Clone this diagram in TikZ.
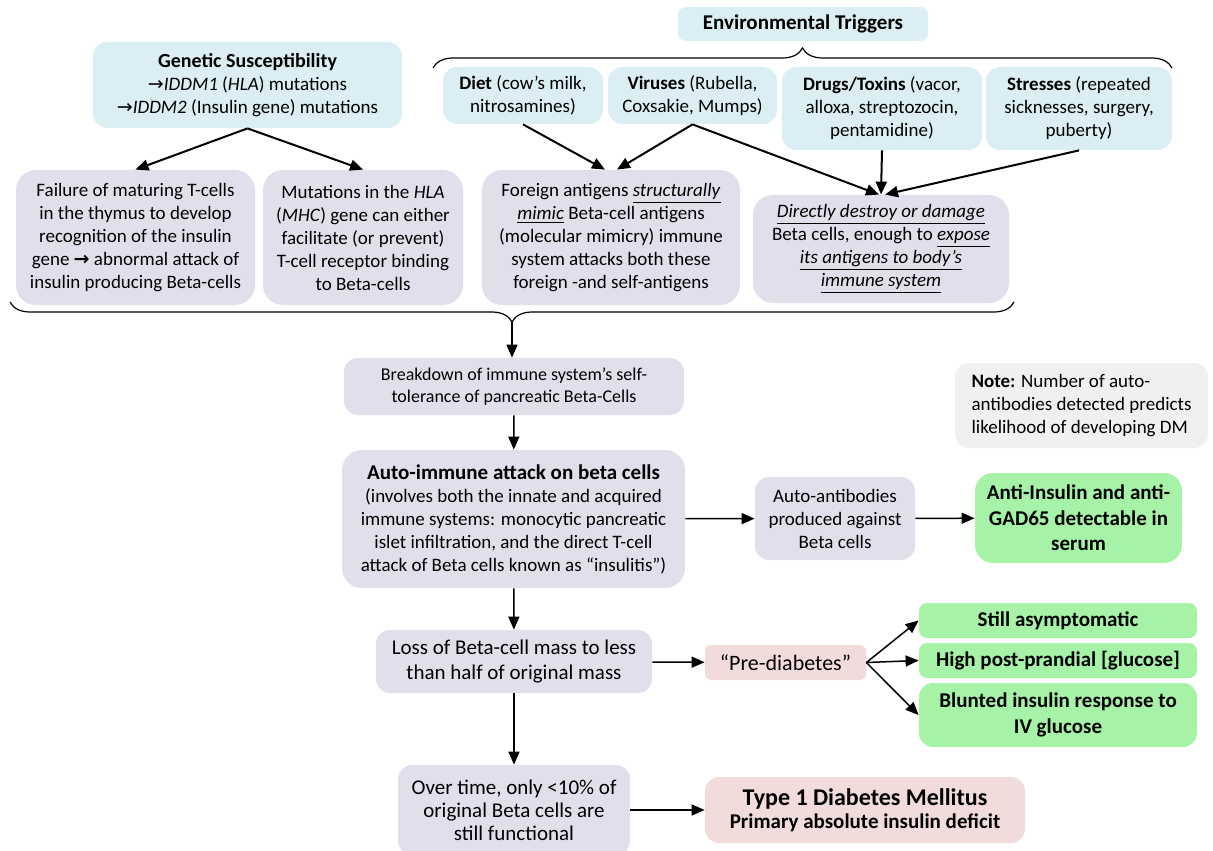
\documentclass[tikz,border=0pt]{standalone}
\usepackage{fontspec}
\setmainfont{Carlito}
\newfontfamily\arrowfont{DejaVu Sans}
\usetikzlibrary{arrows.meta, decorations.pathreplacing}
\definecolor{trigblue}{RGB}{219,238,244}
\definecolor{lilac}{RGB}{225,223,235}
\definecolor{mint}{RGB}{166,242,166}
\definecolor{rose}{RGB}{242,220,219}
\definecolor{notegray}{RGB}{240,240,240}
\newcommand{\rarr}{{\arrowfont →}}
\newcommand{\ulit}[1]{\underline{\textit{#1}}}

\begin{document}
\begin{tikzpicture}[x=0.5pt, y=-0.5pt,
    box/.style = {rounded corners=7pt, align=center, inner sep=1pt, font=\fontsize{9.5}{11.5}\selectfont},
    trig/.style = {box, fill=trigblue},
    stage/.style = {box, fill=lilac},
    sign/.style = {box, fill=mint, font=\fontsize{10.5}{12.8}\selectfont\bfseries},
    result/.style = {box, fill=rose},
    every edge/.style = {draw, -{Triangle[length=6.5pt, width=5.5pt]}, line width=0.75pt},
    brace/.style = {decorate, decoration={brace, amplitude=10pt}, line width=0.6pt}
]
\useasboundingbox (0,0) rectangle (1213,850);

% causes
\node (gen) [trig, minimum width=154.5pt, minimum height=43pt] at (247.5,85)
    {{\fontsize{10}{12.5}\selectfont\bfseries Genetic Susceptibility}\\
     \rarr\textit{IDDM1} (\textit{HLA}) mutations\\
     \rarr\textit{IDDM2} (Insulin gene) mutations};
\node (env) [trig, minimum width=125pt, minimum height=17pt, rounded corners=4pt,
    font=\fontsize{10.5}{12.8}\selectfont\bfseries] at (803,24) {Environmental Triggers};
\node (diet) [trig, minimum width=80pt, minimum height=28.5pt] at (523,95.5)
    {\textbf{Diet} (cow’s milk,\\ nitrosamines)};
\node (vir) [trig, minimum width=84.5pt, minimum height=28.5pt] at (692.5,95.5)
    {\textbf{Viruses} (Rubella,\\ Coxsakie, Mumps)};
\node (drug) [trig, minimum width=100pt, minimum height=41.5pt] at (882,108.5)
    {\textbf{Drugs/Toxins} (vacor,\\ alloxa, streptozocin,\\ pentamidine)};
\node (stress) [trig, minimum width=93pt, minimum height=41.5pt] at (1079,108.5)
    {\textbf{Stresses} (repeated\\ sicknesses, surgery,\\ puberty)};

% mechanisms
\node (fail) [stage, minimum width=119.5pt, minimum height=67.5pt, rounded corners=10pt] at (135.5,237.5)
    {Failure of maturing T-cells\\ in the thymus to develop\\ recognition of the insulin\\
     gene {\arrowfont\bfseries →} abnormal attack of\\ insulin producing Beta-cells};
\node (hla) [stage, minimum width=100pt, minimum height=67.5pt, rounded corners=10pt] at (363,237.5)
    {Mutations in the \textit{HLA}\\ (\textit{MHC}) gene can either\\ facilitate (or prevent)\\
     T-cell receptor binding\\ to Beta-cells};
\node (mimic) [stage, minimum width=129pt, minimum height=67.5pt, rounded corners=10pt] at (611,237.5)
    {Foreign antigens \ulit{structurally}\\ \ulit{mimic} Beta-cell antigens\\
     (molecular mimicry) immune\\ system attacks both these\\ foreign -and self-antigens};
\node (harm) [stage, minimum width=128pt, minimum height=54pt, rounded corners=10pt] at (881,249)
    {\ulit{Directly destroy or damage}\\ Beta cells, enough to \ulit{expose}\\
     \ulit{its antigens to body’s}\\ \ulit{immune system}};

\draw[brace] (433,68) -- (1172,68);
\draw[brace] (1014,302) -- (10,302);
\coordinate (btip) at (512,322);

% course of the disease
\node (brk) [stage, minimum width=170pt, minimum height=28.5pt, font=\fontsize{9}{11}\selectfont] at (514,386.5)
    {Breakdown of immune system’s self-\\ tolerance of pancreatic Beta-Cells};
\node (note) [box, fill=notegray, align=left, minimum width=126.5pt, minimum height=42.5pt] at (1081.5,405.5)
    {\textbf{Note:} Number of auto-\\ antibodies detected predicts\\ likelihood of developing DM};
\node (auto) [stage, minimum width=171.5pt, minimum height=69pt, rounded corners=10pt] at (513.5,519)
    {{\fontsize{10.5}{13}\selectfont\bfseries Auto-immune attack on beta cells}\\
     (involves both the innate and acquired\\ immune systems: monocytic pancreatic\\
     islet infiltration, and the direct T-cell\\ attack of Beta cells known as “insulitis”)};
\node (ab) [stage, minimum width=80pt, minimum height=41.5pt] at (835,518.5)
    {Auto-antibodies\\ produced against\\ Beta cells};
\node (detect) [sign, minimum width=103.5pt, minimum height=45pt, rounded corners=9pt] at (1078.5,518)
    {Anti-Insulin and anti-\\ GAD65 detectable in\\ serum};
\node (loss) [stage, minimum width=138pt, minimum height=31.5pt, font=\fontsize{10.5}{12.5}\selectfont] at (514,661.5)
    {Loss of Beta-cell mass to less\\ than half of original mass};
\node (pre) [result, minimum width=80.5pt, minimum height=17.5pt, rounded corners=3pt,
    font=\fontsize{11}{13}\selectfont] at (785.5,662.5) {“Pre-diabetes”};
\node (asym) [sign, minimum width=139pt, minimum height=17.5pt, rounded corners=4pt] at (1058,620.5)
    {Still asymptomatic};
\node (post) [sign, minimum width=139pt, minimum height=17.5pt, rounded corners=4pt] at (1058,660.5)
    {High post-prandial [glucose]};
\node (blunt) [sign, minimum width=139pt, minimum height=32pt] at (1058,715)
    {Blunted insulin response to\\ IV glucose};
\node (over) [stage, minimum width=116pt, minimum height=45pt, font=\fontsize{10.5}{11.5}\selectfont] at (514,810)
    {Over time, only <10\% of\\ original Beta cells are\\ still functional};
\node (t1) [result, minimum width=160pt, minimum height=33pt] at (865,810)
    {{\fontsize{12}{15}\selectfont\bfseries Type 1 Diabetes Mellitus}\\
     {\fontsize{10.5}{12.8}\selectfont\bfseries Primary absolute insulin deficit}};

\path[every edge/.append style={line width=1pt}]
    (gen.south) edge (fail.north)
        edge (hla.north)
    (diet.south) edge ([xshift=-3pt]mimic.north)
    (vir.south) edge ([xshift=3pt]mimic.north)
        edge ([xshift=-1pt]harm.north)
    (drug.south) edge (harm.north)
    (stress.south) edge ([xshift=2pt]harm.north)
    ;
\path
    (btip) edge (btip |- brk.north)
    (brk) edge (auto)
    (auto) edge (ab)
    (ab) edge (detect)
    (auto) edge (loss)
    (loss) edge (pre)
    (pre.east) edge (asym.west)
        edge (post.west)
        edge (blunt.west)
    (loss) edge (over)
    (over) edge (t1)
    ;
\end{tikzpicture}
\end{document}
